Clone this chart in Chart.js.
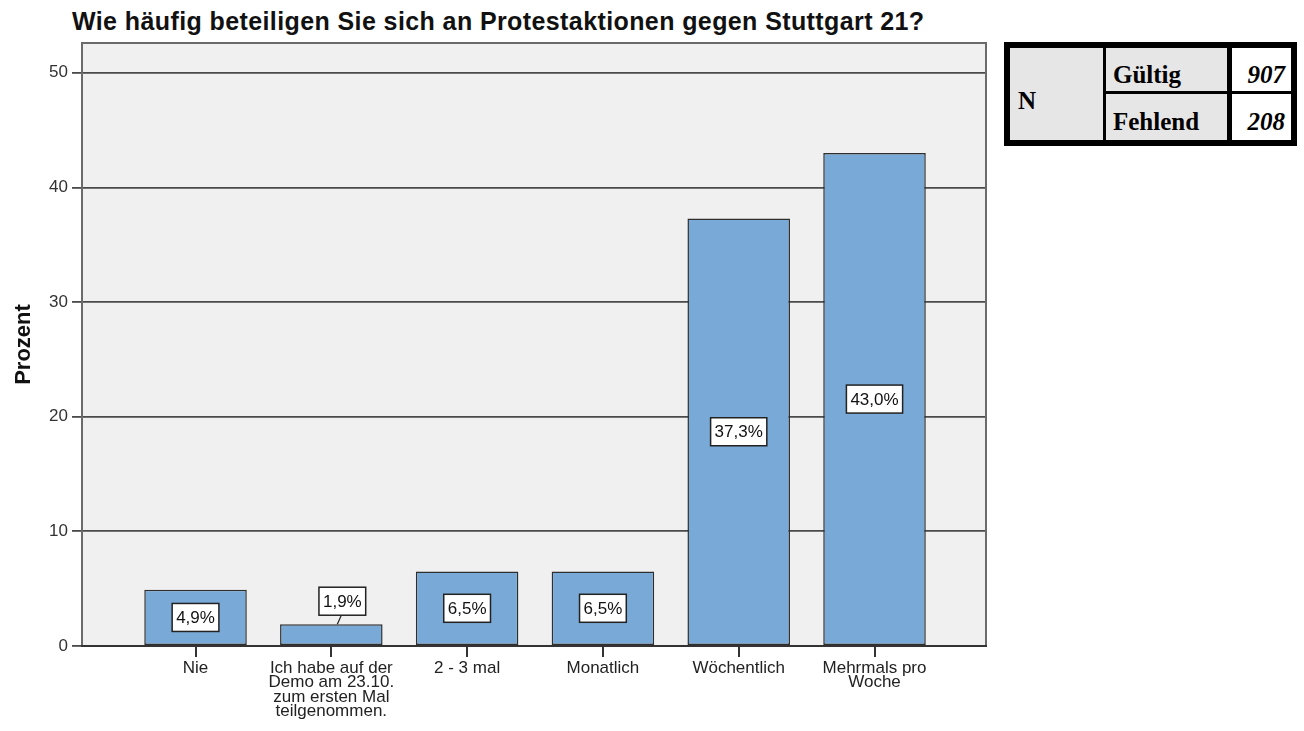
<!DOCTYPE html>
<html>
<head>
<meta charset="utf-8">
<script src="https://cdn.jsdelivr.net/npm/chart.js@4.4.1/dist/chart.umd.min.js"></script>
<style>
body { margin: 0; background: #fff; width: 1304px; height: 731px; overflow: hidden; position: relative; font-family: "Liberation Sans", Arial, sans-serif; }
#title { position: absolute; left: 72px; top: 7px; font-weight: bold; font-size: 25px; letter-spacing: 0.4px; color: #111; white-space: nowrap; }
#wrap { position: absolute; left: 0; top: 0; width: 1000px; height: 731px; }
#ntable { position: absolute; left: 1004px; top: 42px; width: 293px; height: 104px; background: #000; }
#ntable div { position: absolute; font-family: "Liberation Serif", "Times New Roman", serif; font-weight: bold; font-size: 25px; line-height: 1; color: #000; box-sizing: border-box; }
.grey { background: #e6e6e6; }
.white { background: #fff; text-align: right; font-style: italic; }
</style>
</head>
<body>
<div id="title">Wie häufig beteiligen Sie sich an Protestaktionen gegen Stuttgart 21?</div>
<div id="wrap"><canvas id="myChart" width="1000" height="731"></canvas></div>
<div id="ntable"></div>
<script>
var categories = ['Nie', 'Ich habe auf der Demo am 23.10. zum ersten Mal teilgenommen.', '2 - 3 mal', 'Monatlich', 'Wöchentlich', 'Mehrmals pro Woche'];
var tickLabels = [['Nie'], ['Ich habe auf der', 'Demo am 23.10.', 'zum ersten Mal', 'teilgenommen.'], ['2 - 3 mal'], ['Monatlich'], ['Wöchentlich'], ['Mehrmals pro', 'Woche']];
var percent = [4.9, 1.9, 6.5, 6.5, 37.3, 43.0];
var yTicks = [0, 10, 20, 30, 40, 50];

var nLabel = 'N';
var nRows = ['Gültig', 'Fehlend'];
var nValues = [907, 208];

// statistics table on the right
var ntable = document.getElementById('ntable');
function cell(cls, x, y, w, h, text, pad) {
    var d = document.createElement('div');
    d.className = cls;
    d.style.left = x + 'px'; d.style.top = y + 'px';
    d.style.width = w + 'px'; d.style.height = h + 'px';
    d.style.padding = pad;
    d.innerText = text;
    ntable.appendChild(d);
}
cell('grey', 6, 6, 93, 92, nLabel, '40px 0 0 8px');
cell('grey', 102, 6, 121, 43, nRows[0], '14px 0 0 7px');
cell('grey', 102, 52, 121, 46, nRows[1], '15px 0 0 7px');
cell('white', 228, 6, 59, 43, String(nValues[0]), '14px 6px 0 0');
cell('white', 228, 52, 59, 46, String(nValues[1]), '15px 6px 0 0');

Chart.defaults.font.family = '"Liberation Sans", Arial, sans-serif';

var plotFrame = {
    id: 'plotFrame',
    beforeDraw(chart) {
        var a = chart.chartArea, c = chart.ctx;
        c.save();
        c.fillStyle = '#f0f0f0';
        c.fillRect(a.left, a.top, a.right - a.left, a.bottom - a.top);
        c.restore();
    },
    afterDatasetsDraw(chart) {
        var a = chart.chartArea, c = chart.ctx;
        c.save();
        c.strokeStyle = '#6a6a6a';
        c.lineWidth = 2;
        c.beginPath();
        c.moveTo(a.left, a.bottom);
        c.lineTo(a.left, a.top);
        c.lineTo(a.right, a.top);
        c.lineTo(a.right, a.bottom);
        c.stroke();
        c.strokeStyle = '#333';
        c.beginPath();
        c.moveTo(a.left - 1, a.bottom);
        c.lineTo(a.right + 1, a.bottom);
        c.stroke();
        c.restore();
    }
};

var valueBoxes = {
    id: 'valueBoxes',
    afterDatasetsDraw(chart) {
        var c = chart.ctx;
        var meta = chart.getDatasetMeta(0);
        c.save();
        c.font = '17px "Liberation Sans", Arial, sans-serif';
        c.textAlign = 'center';
        c.textBaseline = 'middle';
        meta.data.forEach(function (bar, i) {
            var txt = percent[i].toFixed(1).replace('.', ',') + '%';
            var w = c.measureText(txt).width + 8, h = 28;
            var cx = bar.x, cy = (bar.y + bar.base) / 2;
            if (bar.base - bar.y < h + 6) {
                cx = bar.x + 11;
                cy = bar.y - 23;
                c.strokeStyle = '#222';
                c.lineWidth = 1.2;
                c.beginPath();
                c.moveTo(bar.x + 6, bar.y);
                c.lineTo(bar.x + 10, cy + h / 2);
                c.stroke();
            }
            c.fillStyle = '#fff';
            c.fillRect(cx - w / 2, cy - h / 2, w, h);
            c.strokeStyle = '#222';
            c.lineWidth = 1.5;
            c.strokeRect(cx - w / 2, cy - h / 2, w, h);
            c.fillStyle = '#111';
            c.fillText(txt, cx, cy + 1);
        });
        c.restore();
    }
};

var ctx = document.getElementById('myChart').getContext('2d');
var myChart = new Chart(ctx, {
    type: 'bar',
    data: {
        datasets: [{
            data: percent.map(function (v, i) { return { x: i, y: v }; }),
            backgroundColor: '#79a9d6',
            borderColor: '#2e2e2e',
            borderWidth: 1.5,
            borderSkipped: false,
            barPercentage: 0.755,
            categoryPercentage: 1
        }]
    },
    options: {
        responsive: false,
        animation: false,
        layout: { padding: { top: 43, right: 14, left: 0, bottom: 0 } },
        plugins: { legend: { display: false }, tooltip: { enabled: false } },
        scales: {
            x: {
                type: 'linear',
                min: -0.836,
                max: 5.821,
                offset: false,
                afterBuildTicks: function (s) { s.ticks = categories.map(function (c, i) { return { value: i }; }); },
                afterFit: function (s) { s.height = 85; },
                grid: { offset: false, drawOnChartArea: false, drawTicks: true, tickLength: 11, color: '#333', lineWidth: 2 },
                border: { display: true, color: '#333', width: 2 },
                ticks: {
                    autoSkip: false, maxRotation: 0, padding: 4, color: '#222',
                    font: { size: 17, lineHeight: 0.85 },
                    callback: function (v) { return tickLabels[v]; }
                }
            },
            y: {
                min: 0,
                max: 52.6,
                afterBuildTicks: function (s) { s.ticks = yTicks.map(function (v) { return { value: v }; }); },
                afterFit: function (s) { s.width = 82; },
                grid: { color: '#4a4a4a', lineWidth: 1.8, tickLength: 10 },
                border: { display: false },
                ticks: { padding: 4, color: '#333', font: { size: 17 } },
                title: { display: true, text: 'Prozent', color: '#111', font: { size: 22, weight: 'bold' }, padding: { top: 11, bottom: 0 } }
            }
        }
    },
    plugins: [plotFrame, valueBoxes]
});
</script>
</body>
</html>
